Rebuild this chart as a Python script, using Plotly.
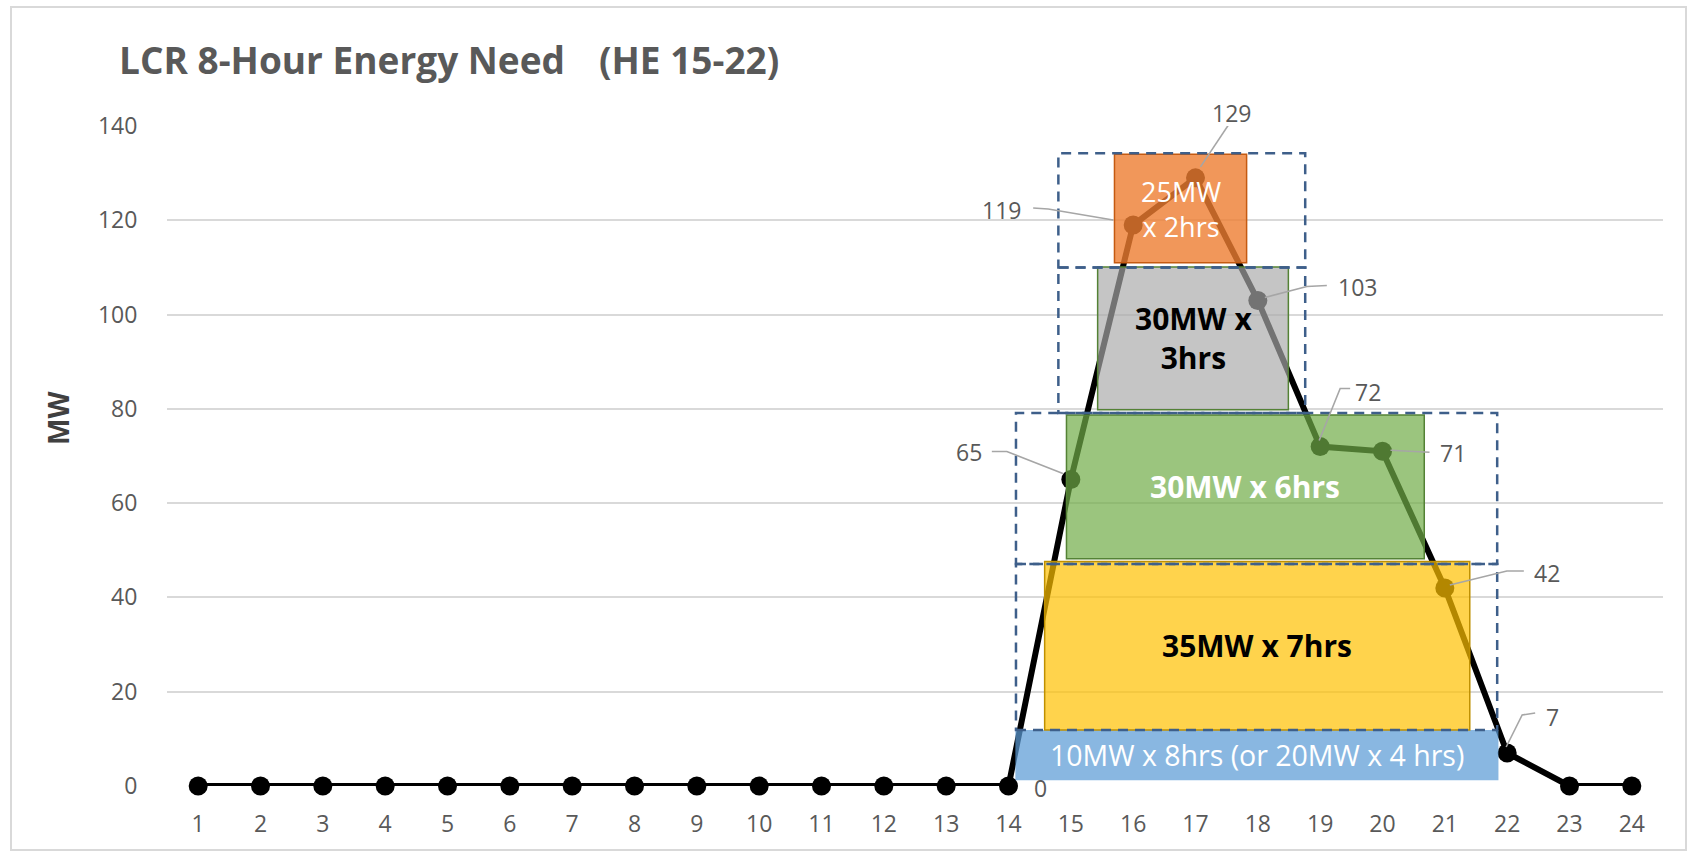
import plotly.graph_objects as go

# ---- data ----
hours = list(range(1, 25))
mw = [0, 0, 0, 0, 0, 0, 0, 0, 0, 0, 0, 0, 0, 0, 65, 119, 129, 103, 72, 71, 42, 7, 0, 0]
y_ticks = [0, 20, 40, 60, 80, 100, 120, 140]

label_hours = [14, 15, 16, 17, 18, 19, 20, 21, 22]

block_text = ["10MW x 8hrs (or 20MW x 4 hrs)", "35MW x 7hrs", "30MW x 6hrs", "30MW x<br>3hrs", "25MW<br>x 2hrs"]
block_h0 = [14.11, 14.58, 14.93, 15.43, 15.70]
block_h1 = [21.86, 21.40, 20.67, 18.49, 17.82]
block_mw0 = [1.2, 11.9, 48.2, 79.8, 111.0]
block_mw1 = [11.9, 47.6, 78.7, 110.1, 134.0]

group_h0 = [14.12, 14.12, 14.80, 14.80]
group_h1 = [21.84, 21.84, 18.76, 18.76]
group_mw0 = [11.9, 47.1, 79.1, 110.0]
group_mw1 = [47.1, 79.1, 110.0, 134.2]

# ---- layout geometry ----
W, H = 1688, 852
ML, MR, MT, MB = 167, 25, 126, 66
PW, PH = W - ML - MR, H - MT - MB
XR = [0.5, 24.5]
YR = [0, 140]
PXX = PW / (XR[1] - XR[0])
PXY = PH / (YR[1] - YR[0])

def px_to_paper_x(p):
    return (p - ML) / PW

def px_to_paper_y(p):
    return (H - MB - p) / PH

# styles
block_fill = ["rgba(91,155,213,0.72)", "rgba(255,192,0,0.70)", "rgba(112,173,71,0.70)",
              "rgba(170,170,170,0.68)", "rgba(237,125,49,0.80)"]
block_line = ["rgba(91,155,213,0.0)", "#BF9000", "#548235", "#548235", "#C55A11"]
block_font_color = ["white", "black", "white", "black", "white"]
block_bold = [False, True, True, True, False]
block_font_size = [28.5, 30, 30, 30, 27]

label_offsets = {14: (32, 2), 15: (-102, -28), 16: (-132, -15), 17: (36, -65), 18: (100, -13),
                 19: (48, -55), 20: (70, 2), 21: (102, -15), 22: (45, -36)}
leader_offsets = {
    15: [(-79, -28), (-64, -28), (-8, -6)],
    16: [(-100, -17), (-85, -16), (-20, -5)],
    17: [(33, -53), (5, -11)],
    18: [(69, -15), (49, -14), (7, -3)],
    19: [(30, -58), (20, -58), (-1, -6)],
    20: [(47, 1), (8, -1)],
    21: [(79, -17), (62, -17), (5, -3)],
    22: [(28, -40), (15, -38), (-1, -6)],
}

fig = go.Figure()
fig.add_trace(go.Scatter(
    x=hours, y=mw, mode="lines+markers",
    line=dict(color="black", width=6),
    marker=dict(color="black", size=19),
    cliponaxis=False, showlegend=False, hoverinfo="x+y"))

shapes = []
annotations = []

# colored blocks
for i in range(len(block_text)):
    shapes.append(dict(type="rect", xref="x", yref="y", layer="above",
                       x0=block_h0[i], x1=block_h1[i], y0=block_mw0[i], y1=block_mw1[i],
                       fillcolor=block_fill[i], line=dict(color=block_line[i], width=1.5)))
    txt = block_text[i]
    if block_bold[i]:
        txt = "<b>" + txt + "</b>"
    annotations.append(dict(x=(block_h0[i] + block_h1[i]) / 2, y=(block_mw0[i] + block_mw1[i]) / 2,
                            xref="x", yref="y", text=txt, showarrow=False,
                            font=dict(family="Open Sans", size=block_font_size[i],
                                      color=block_font_color[i])))

# dashed group boxes
for i in range(len(group_h0)):
    shapes.append(dict(type="rect", xref="x", yref="y", layer="above",
                       x0=group_h0[i], x1=group_h1[i], y0=group_mw0[i], y1=group_mw1[i],
                       fillcolor="rgba(0,0,0,0)",
                       line=dict(color="#3E5F8A", width=2.5, dash="10px,7px")))

# data labels and leader lines
for h in label_hours:
    v = mw[hours.index(h)]
    ox, oy = label_offsets[h]
    annotations.append(dict(x=h, y=v, xref="x", yref="y", text=str(v), showarrow=False,
                            xshift=ox, yshift=-oy,
                            font=dict(family="Open Sans", size=23, color="#595959")))
    if h in leader_offsets:
        pts = [(h + dx / PXX, v - dy / PXY) for dx, dy in leader_offsets[h]]
        path = "M " + " L ".join(f"{px:.4f},{py:.4f}" for px, py in pts)
        shapes.append(dict(type="path", xref="x", yref="y", layer="above", path=path,
                           line=dict(color="#A6A6A6", width=1.6)))

# title
annotations.append(dict(xref="paper", yref="paper", x=px_to_paper_x(117), y=px_to_paper_y(60),
                        xanchor="left", yanchor="middle", showarrow=False,
                        text="<b>LCR 8-Hour Energy Need</b>",
                        font=dict(family="Open Sans", size=37, color="#595959")))
annotations.append(dict(xref="paper", yref="paper", x=px_to_paper_x(597), y=px_to_paper_y(60),
                        xanchor="left", yanchor="middle", showarrow=False,
                        text="<b>(HE 15-22)</b>",
                        font=dict(family="Open Sans", size=37, color="#595959")))
# y axis title
annotations.append(dict(xref="paper", yref="paper", x=px_to_paper_x(58), y=px_to_paper_y(418),
                        xanchor="center", yanchor="middle", showarrow=False, textangle=-90,
                        text="<b>MW</b>",
                        font=dict(family="Open Sans", size=28, color="#404040")))

# outer chart border
shapes.append(dict(type="rect", xref="paper", yref="paper", layer="below",
                   x0=px_to_paper_x(11), x1=px_to_paper_x(1686),
                   y0=px_to_paper_y(850), y1=px_to_paper_y(7),
                   line=dict(color="#D9D9D9", width=2), fillcolor="rgba(0,0,0,0)"))

fig.update_layout(
    width=W, height=H,
    margin=dict(l=ML, r=MR, t=MT, b=MB, pad=0),
    paper_bgcolor="white", plot_bgcolor="white",
    shapes=shapes, annotations=annotations,
    showlegend=False,
    font=dict(family="Open Sans", color="#595959"),
)
fig.update_xaxes(range=XR, tickmode="array", tickvals=hours, ticktext=[str(h) for h in hours],
                 showgrid=False, zeroline=False, showline=False,
                 ticks="outside", ticklen=17, tickcolor="rgba(0,0,0,0)",
                 tickfont=dict(family="Open Sans", size=23, color="#595959"))
fig.update_yaxes(range=YR, tickmode="array", tickvals=y_ticks,
                 showgrid=True, gridcolor="#D9D9D9", gridwidth=1.5,
                 zeroline=False, showline=False,
                 ticks="outside", ticklen=24, tickcolor="rgba(0,0,0,0)",
                 tickfont=dict(family="Open Sans", size=23, color="#595959"))

fig.write_html("out.html", config={"displayModeBar": False},
               post_script="document.body.style.margin='0';document.body.style.overflow='hidden';")
